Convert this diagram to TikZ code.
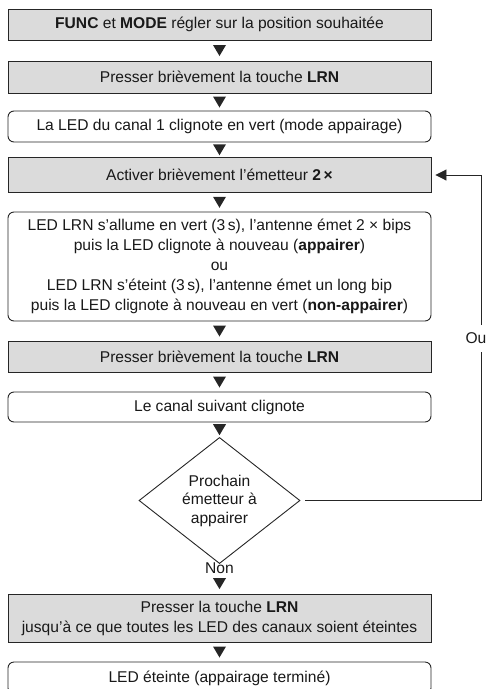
\documentclass[tikz,border=0pt]{standalone}
\usepackage{fontspec}
\setmainfont{Liberation Sans}
\usetikzlibrary{shapes.geometric,arrows.meta,calc}
\newcommand{\downtri}[2]{%
  \path (#1) -- (#2) coordinate[pos=0.5] (tmp);
  \fill[black!85] ($(tmp)+(-6.5,-5.5)$) -- ($(tmp)+(6.5,-5.5)$) -- ($(tmp)+(0,5.5)$) -- cycle;}
\begin{document}
\begin{tikzpicture}[x=1pt,y=-1pt,
  every node/.style={font=\fontsize{15.6}{20}\selectfont, text=black!90},
  graybox/.style={draw=black!85, line width=0.9pt, fill=black!14, minimum width=423pt, inner sep=0pt, align=center},
  roundbox/.style={graybox, fill=white, rounded corners=6pt},
  decision/.style={diamond, draw=black!85, line width=0.9pt, fill=white, minimum width=161pt, minimum height=115pt, inner sep=0pt, align=center, font=\fontsize{15.6}{18.5}\selectfont},
  link/.style={draw=black!85, line width=0.9pt},
  plain/.style={inner sep=0pt}
]
\useasboundingbox (0,0) rectangle (489,689);

\node[graybox, minimum height=31pt] (b1) at (219.5,24.5) {\textbf{FUNC} et \textbf{MODE} régler sur la position souhaitée};
\node[graybox, minimum height=32pt] (b2) at (219.5,77) {Presser brièvement la touche \textbf{LRN}};
\node[roundbox, minimum height=31pt] (b3) at (219.5,126.5) {La LED du canal 1 clignote en vert (mode appairage)};
\node[graybox, minimum height=35pt] (b4) at (219.5,175) {Activer brièvement l’émetteur \textbf{2\,×}};
\node[roundbox, minimum height=109pt] (b5) at (219.5,266.5) {LED LRN s’allume en vert (3\,s), l’antenne émet 2 × bips\\puis la LED clignote à nouveau (\textbf{appairer})\\ou\\LED LRN s’éteint (3\,s), l’antenne émet un long bip\\puis la LED clignote à nouveau en vert (\textbf{non-appairer})};
\node[graybox, minimum height=31pt] (b6) at (219.5,356.5) {Presser brièvement la touche \textbf{LRN}};
\node[roundbox, minimum height=30pt] (b7) at (219.5,407) {Le canal suivant clignote};
\node[decision] (d) at (219.5,500.5) {Prochain\\émetteur à\\appairer};
\node[plain] (non) at (219.5,568) {Non};
\node[graybox, minimum height=48pt] (b8) at (219.5,618) {Presser la touche \textbf{LRN}\\jusqu’à ce que toutes les LED des canaux soient éteintes};
\node[roundbox, minimum height=32pt] (b9) at (219.5,678) {LED éteinte (appairage terminé)};
\node[plain] (ou) at (476,338.5) {Ou};

\downtri{b1.south}{b2.north}
\downtri{b2.south}{b3.north}
\downtri{b3.south}{b4.north}
\downtri{b4.south}{b5.north}
\downtri{b5.south}{b6.north}
\downtri{b6.south}{b7.north}
\downtri{b7.south}{d.north}
\downtri{non.south}{b8.north}
\downtri{b8.south}{b9.north}

% feedback loop
\coordinate (c1) at (481,325);
\coordinate (c2) at (481,352);
\draw[link, shorten <=5pt] (d.east) -| (c2);
\draw[link, shorten >=4pt, -{Triangle[length=11pt,width=11pt]}] (c1) |- (b4.east);
\end{tikzpicture}
\end{document}
